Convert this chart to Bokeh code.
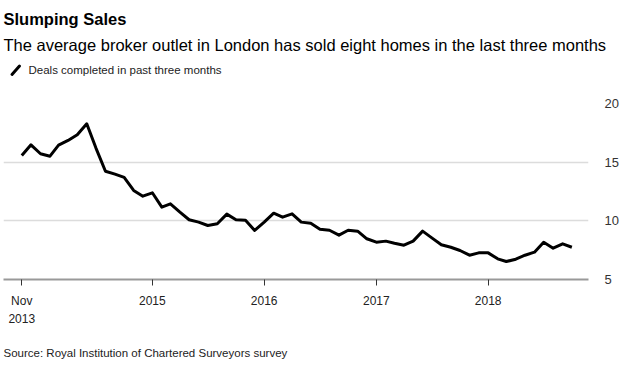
import pandas as pd
from bokeh.plotting import figure
from bokeh.models import Range1d, FixedTicker, CustomJSTickFormatter
from bokeh.core.properties import value
from bokeh.embed import file_html
from bokeh.resources import INLINE

# ---- data -------------------------------------------------------------
months = pd.date_range("2013-11-01", periods=60, freq="MS")
deals = [15.57, 16.48, 15.72, 15.51, 16.45, 16.85, 17.33, 18.27, 16.2, 14.23,
         13.98, 13.70, 12.59, 12.10, 12.39, 11.17, 11.45, 10.74, 10.09, 9.89,
         9.60, 9.75, 10.57, 10.09, 10.06, 9.18, 9.89, 10.65, 10.31, 10.60,
         9.89, 9.80, 9.29, 9.20, 8.78, 9.20, 9.12, 8.47, 8.18, 8.27,
         8.09, 7.92, 8.27, 9.12, 8.55, 7.96, 7.75, 7.47, 7.07, 7.27,
         7.27, 6.76, 6.53, 6.73, 7.07, 7.33, 8.18, 7.67, 8.04, 7.75]
x_tick_dates = ["2013-11-01", "2015-01-01", "2016-01-01", "2017-01-01", "2018-01-01"]
y_ticks = [5, 10, 15, 20]

title_text = "Slumping Sales"
subtitle_text = "The average broker outlet in London has sold eight homes in the last three months"
legend_text = "Deals completed in past three months"
source_text = "Source: Royal Institution of Chartered Surveyors survey"

FONT = "Liberation Sans"
W = 636


def blank(height):
    f = figure(width=W, height=height, x_range=Range1d(0, W), y_range=Range1d(height, 0),
               x_axis_type=None, y_axis_type=None, output_backend="svg",
               toolbar_location=None, title=None,
               min_border_left=0, min_border_right=0, min_border_top=0, min_border_bottom=0)
    f.grid.visible = False
    f.outline_line_color = None
    f.background_fill_color = "white"
    f.border_fill_color = "white"
    return f


# ---- header -----------------------------------------------------------
HEAD_H = 90
head = blank(HEAD_H)
head.text(x=[3], y=[18], text=[title_text], text_font=value(FONT), text_font_style="bold",
          text_font_size="16.5px", text_baseline="middle", text_color="black")
head.text(x=[3], y=[44], text=[subtitle_text], text_font=value(FONT),
          text_font_size="16.5px", text_baseline="middle", text_color="black")
head.text(x=[28], y=[69.5], text=[legend_text], text_font=value(FONT),
          text_font_size="11.5px", text_baseline="middle", text_color="#222222")
head.segment(x0=[11.5], y0=[74], x1=[19], y1=[65.5], line_width=3, line_color="black",
             line_cap="round")

# ---- main chart -------------------------------------------------------
MAIN_H = 250
x0 = pd.Timestamp("2013-11-01") - pd.Timedelta(days=59.7)
x1 = x0 + pd.Timedelta(days=1909.0)

p = figure(width=W, height=MAIN_H, x_axis_type="datetime", y_axis_location="right",
           x_range=Range1d(x0, x1), y_range=Range1d(5, 20),
           output_backend="svg", toolbar_location=None, title=None,
           min_border_left=3, min_border_right=48, min_border_top=103 - HEAD_H,
           min_border_bottom=MAIN_H - (279 - HEAD_H))
p.outline_line_color = None
p.background_fill_color = "white"
p.border_fill_color = "white"

p.line(months, deals, line_color="black", line_width=3, line_join="round")

p.xgrid.visible = False
p.ygrid.grid_line_color = "#dcdcdc"
p.ygrid.grid_line_width = 1.5

p.yaxis.ticker = FixedTicker(ticks=y_ticks)
p.yaxis.axis_line_color = None
p.yaxis.major_tick_line_color = None
p.yaxis.minor_tick_line_color = None
p.yaxis.major_label_text_font = FONT
p.yaxis.major_label_text_font_size = "13px"
p.yaxis.major_label_text_color = "#333333"
p.yaxis.major_label_standoff = 10

p.xaxis.ticker = FixedTicker(ticks=[int(pd.Timestamp(d).value // 10**6) for d in x_tick_dates])
p.xaxis.formatter = CustomJSTickFormatter(code="""
const d = new Date(tick);
const y = d.getUTCFullYear();
return d.getUTCMonth() == 10 ? "Nov\\n" + y : String(y);
""")
p.xaxis.axis_line_color = "#999999"
p.xaxis.axis_line_width = 2
p.xaxis.major_tick_in = 0
p.xaxis.major_tick_out = 6
p.xaxis.major_tick_line_color = "#333333"
p.xaxis.minor_tick_line_color = None
p.xaxis.major_label_text_font = FONT
p.xaxis.major_label_text_font_size = "12px"
p.xaxis.major_label_text_color = "#222222"
p.xaxis.major_label_standoff = 8
p.xaxis.major_label_text_line_height = 1.3

# ---- footer -----------------------------------------------------------
FOOT_H = 42
foot = blank(FOOT_H)
foot.text(x=[3], y=[352 - HEAD_H - MAIN_H], text=[source_text], text_font=value(FONT),
          text_font_size="11.5px", text_baseline="middle", text_color="#222222")

# three independent roots stacked on the page (no frame alignment between them)
open("out.html", "w").write(file_html([head, p, foot], INLINE))
